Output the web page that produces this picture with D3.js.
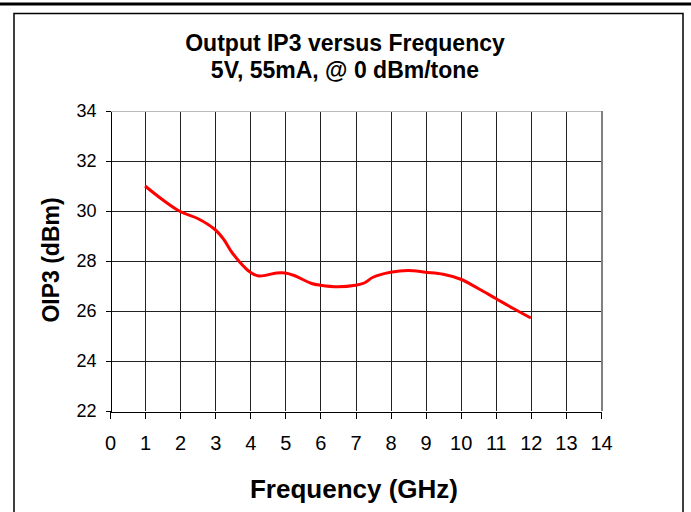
<!DOCTYPE html>
<meta charset="utf-8">
<html>
<head>
  <title>Output IP3 versus Frequency</title>
  <script src="https://d3js.org/d3.v7.min.js"></script>
</head>
<style>
  body { margin: 0; background: #fff; }
  text { font-family: 'Liberation Sans', Arial, sans-serif; fill: #000; }
</style>
<body>
<script>

  // values
  var freq = [1, 1.5, 2, 2.5, 3, 3.25, 3.5, 4, 4.25, 4.75, 5, 5.25, 5.75, 6, 6.5, 7, 7.25, 7.5, 8, 8.5, 9, 9.5, 10, 10.5, 11, 11.5, 12];
  var oip3 = [31.0, 30.45, 29.98, 29.7, 29.25, 28.85, 28.3, 27.55, 27.4, 27.52, 27.52, 27.42, 27.1, 27.03, 26.97, 27.03, 27.12, 27.35, 27.55, 27.62, 27.55, 27.47, 27.27, 26.9, 26.5, 26.1, 25.72];
  var xTicks = d3.range(0, 15, 1);
  var yTicks = [22, 24, 26, 28, 30, 32, 34];

  var width = 691, height = 512;
  var svg = d3.select("body").append("svg")
      .attr("width", width)
      .attr("height", height);

  // page rule and frame
  svg.append("rect")
      .attr("x", 0).attr("y", 2.5)
      .attr("width", width).attr("height", 3)
      .attr("fill", "#000");
  svg.append("rect")
      .attr("x", 14).attr("y", 13.5)
      .attr("width", 669).attr("height", 520)
      .attr("fill", "none")
      .attr("stroke", "#000")
      .attr("stroke-width", 1.5);

  var x = d3.scaleLinear().domain([0, 14]).range([110, 601]);
  var y = d3.scaleLinear().domain([22, 34]).range([411, 111]);

  var g = svg.append("g").attr("shape-rendering", "crispEdges");

  //gridlines
  g.selectAll(".vgrid")
    .data(xTicks.slice(1))
    .enter()
      .append("line")
      .attr("x1", function(d) { return Math.round(x(d)) + 0.5; })
      .attr("x2", function(d) { return Math.round(x(d)) + 0.5; })
      .attr("y1", y(34)).attr("y2", y(22))
      .attr("stroke", function(d) { return d == 14 ? "#808080" : "#222"; })
      .attr("stroke-width", function(d) { return d == 14 ? 2 : 1; });

  g.selectAll(".hgrid")
    .data(yTicks.slice(1))
    .enter()
      .append("line")
      .attr("x1", x(0)).attr("x2", x(14))
      .attr("y1", function(d) { return Math.round(y(d)) + 0.5; })
      .attr("y2", function(d) { return Math.round(y(d)) + 0.5; })
      .attr("stroke", function(d) { return d == 34 ? "#bbb" : "#222"; });

  //axes
  var xAxis = svg.append("g")
      .attr("transform", "translate(0," + (Math.round(y(22)) + 0.5) + ")")
      .call(d3.axisBottom(x).tickValues(xTicks).tickSizeInner(7).tickSizeOuter(0).tickPadding(17));
  xAxis.selectAll("text")
      .attr("font-size", 20)
      .attr("font-family", "'Liberation Sans', Arial, sans-serif");

  var yAxis = svg.append("g")
      .attr("transform", "translate(" + (Math.round(x(0)) + 0.5) + ",0)")
      .call(d3.axisLeft(y).tickValues(yTicks).tickSizeInner(5).tickSizeOuter(0).tickPadding(9));
  yAxis.selectAll("text")
      .attr("font-size", 18)
      .attr("font-family", "'Liberation Sans', Arial, sans-serif");
  svg.selectAll(".domain, .tick line").attr("stroke", "#000").attr("shape-rendering", "crispEdges");

  //the curve
  var line = d3.line()
      .x(function(d) { return x(d[0]); })
      .y(function(d) { return y(d[1]); })
      .curve(d3.curveCatmullRom);

  svg.append("path")
      .datum(d3.zip(freq, oip3))
      .attr("d", line)
      .attr("fill", "none")
      .attr("stroke", "#ff0000")
      .attr("stroke-width", 3)
      .attr("stroke-linejoin", "round");

  //titles
  svg.append("text")
      .attr("x", 345).attr("y", 51)
      .attr("text-anchor", "middle")
      .attr("font-size", 23).attr("font-weight", "bold")
      .text("Output IP3 versus Frequency");
  svg.append("text")
      .attr("x", 345).attr("y", 78)
      .attr("text-anchor", "middle")
      .attr("font-size", 23).attr("font-weight", "bold")
      .text("5V, 55mA, @ 0 dBm/tone");

  svg.append("text")
      .attr("x", 354).attr("y", 498)
      .attr("text-anchor", "middle")
      .attr("font-size", 26).attr("font-weight", "bold")
      .text("Frequency (GHz)");

  svg.append("text")
      .attr("transform", "translate(59,260) rotate(-90)")
      .attr("text-anchor", "middle")
      .attr("font-size", 23).attr("font-weight", "bold")
      .text("OIP3 (dBm)");

</script>
</body>
</html>
